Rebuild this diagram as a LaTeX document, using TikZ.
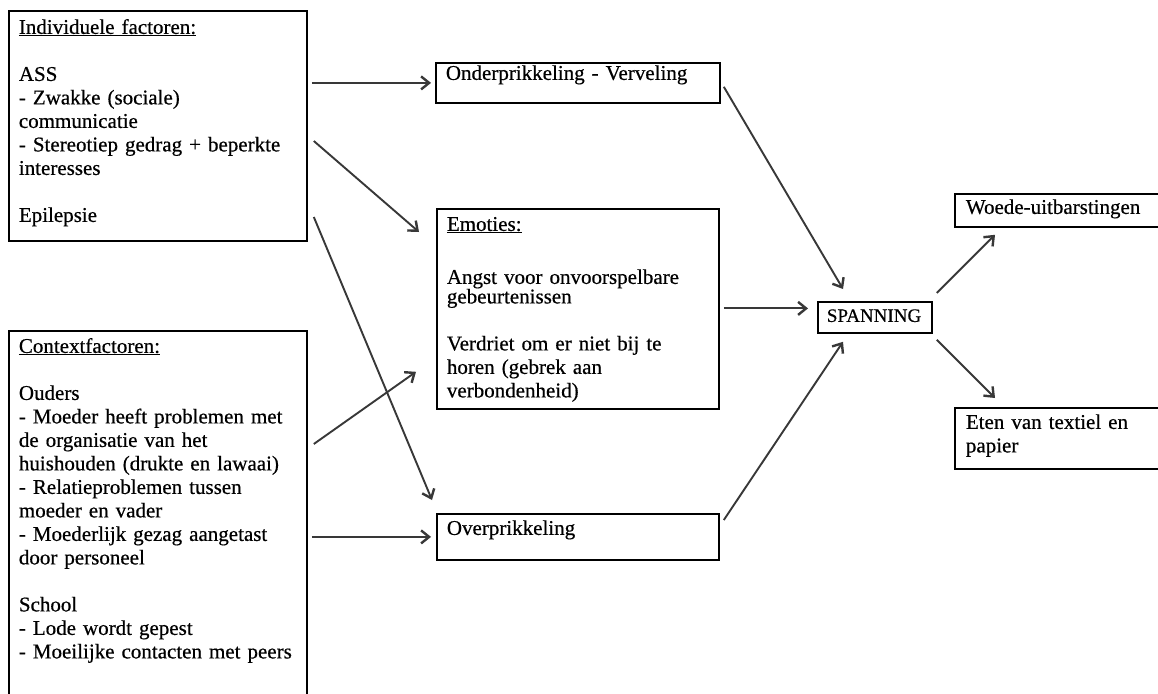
\documentclass[tikz,border=0pt]{standalone}
\usepackage{fontspec}
\setmainfont{Liberation Serif}[FakeBold=0.5]
\usetikzlibrary{arrows.meta}

\begin{document}
\begin{tikzpicture}[x=1pt, y=-1pt,
    vak/.style={draw=black, line width=1.8pt, anchor=north west, align=left,
      inner xsep=10pt, inner ysep=0pt, font=\fontsize{21}{23.5}\selectfont},
    pijl/.style={draw=black!78, line width=1.9pt, -{Straight Barb[length=8pt,width=13pt,line width=2.4pt]}}]
          \clip (0,0) rectangle (1158,693);
          \fill[white] (0,0) rectangle (1158,693);

          \node[vak, text width=278pt, text height=23pt, text depth=207pt] (indiv) at (8,10)
          {\underline{Individuele factoren:}\\[23.5pt] ASS\\ - Zwakke (sociale)\\ communicatie\\
           - Stereotiep gedrag + beperkte\\ interesses\\[23.5pt] Epilepsie};

          \node[vak, text width=278pt, text height=22pt, text depth=368pt] (context) at (8,330)
          {\underline{Contextfactoren:}\\[23.5pt] Ouders\\ - Moeder heeft problemen met\\ de organisatie van het\\
           huishouden (drukte en lawaai)\\ - Relatieproblemen tussen\\ moeder en vader\\
           - Moederlijk gezag aangetast\\ door personeel\\[23.5pt] School\\ - Lode wordt gepest\\
           - Moeilijke contacten met peers};

          \node[vak, text width=264pt, text height=17pt, text depth=23pt] (onder) at (435,62)
          {Onderprikkeling - Verveling};

          \node[vak, text width=262pt, text height=22pt, text depth=178pt] (emoties) at (436,208)
          {\underline{Emoties:}\\[29.5pt] Angst voor onvoorspelbare\\[-4pt] gebeurtenissen\\[23.5pt]
           Verdriet om er niet bij te\\ horen (gebrek aan\\ verbondenheid)};

          \node[vak, text width=262pt, text height=21pt, text depth=25pt] (over) at (436,513)
          {Overprikkeling};

          \node[vak, inner xsep=9pt, text width=96pt, text height=20pt, text depth=11pt,
                font=\fontsize{19}{23.5}\selectfont] (spanning) at (817,301)
          {SPANNING};

          \node[vak, inner xsep=11pt, text width=194pt, text height=20pt, text depth=13pt] (woede) at (954,193)
          {Woede-uitbarstingen};

          \node[vak, inner xsep=11pt, text width=194pt, text height=21pt, text depth=40pt] (eten) at (954,407)
          {Eten van textiel en\\ papier};

          \coordinate (spanin) at ([shift={(0,-9)}]spanning.west);

          \draw[pijl, shorten <=4pt, shorten >=4pt] (indiv.east |- onder.west) -- (onder.west);
          \draw[pijl] ([shift={(6,131)}]indiv.north east) -- ([shift={(-17,24)}]emoties.north west);
          \draw[pijl] ([shift={(6,207)}]indiv.north east) -- ([shift={(-4,-13)}]over.north west);
          \draw[pijl] ([shift={(6,114)}]context.north east) -- ([shift={(-20,-38)}]emoties.south west);
          \draw[pijl, shorten <=4pt, shorten >=5pt] (context.east |- over.west) -- (over.west);

          \draw[pijl] ([shift={(3,-17)}]onder.south east) -- ([shift={(26,-12)}]spanning.north west);
          \draw[pijl, shorten <=4pt, shorten >=9pt] (emoties.east |- spanin) -- (spanin);
          \draw[pijl] ([shift={(4,7)}]over.north east) -- ([shift={(26,8)}]spanning.south west);

          \draw[pijl] ([shift={(4,-8)}]spanning.north east) -- ([shift={(41,7)}]woede.south west);
          \draw[pijl] ([shift={(4,6)}]spanning.south east) -- ([shift={(41,-9)}]eten.north west);

      \end{tikzpicture}
\end{document}
